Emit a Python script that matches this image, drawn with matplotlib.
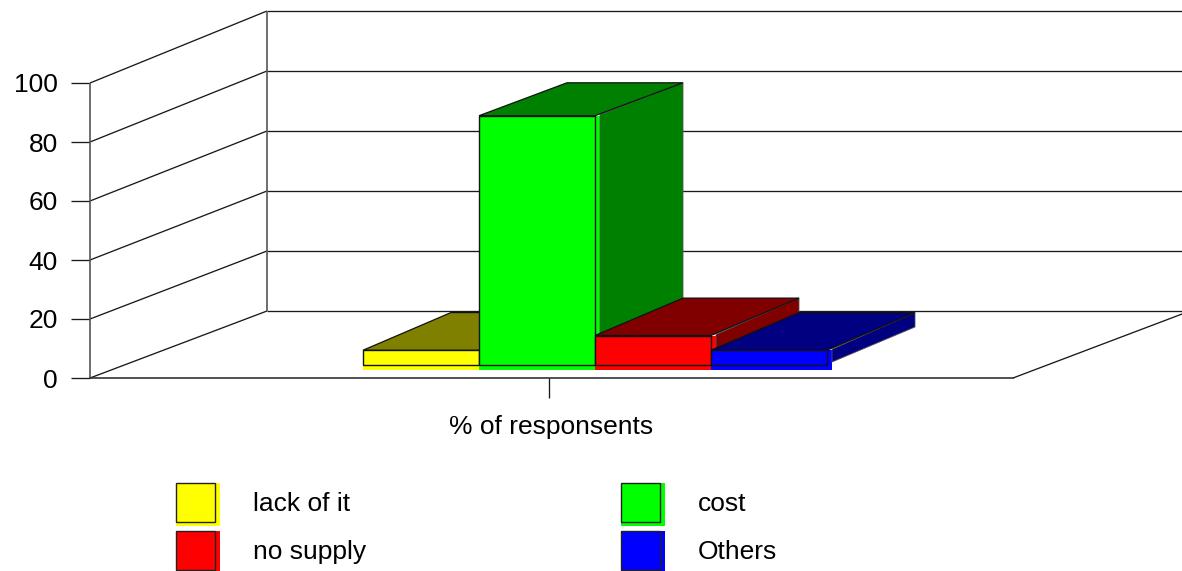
#Import necessary libraries
import matplotlib.pyplot as plt
from matplotlib.patches import Polygon, Rectangle

plt.rcParams["font.family"] = ["Liberation Sans", "DejaVu Sans"]

#Chart data
categories = ["lack of it", "cost", "no supply", "Others"]
values = [5, 84.5, 10, 5]
ticks = [0, 20, 40, 60, 80, 100]
group_label = "% of responsents"

#Colours for each series
front_colors = ["#ffff00", "#00ff00", "#ff0000", "#0000ff"]
dark_colors = ["#808000", "#008000", "#800000", "#000080"]

#Box geometry in pixels
x_left, x_floor_right = 90, 1013
y_zero, y_hundred = 378, 83
depth_x, depth_y = 177, 67
back_top = 11
unit = (y_zero - y_hundred) / 100

#Bar geometry in pixels
bar_x0, bar_w = 363, 116
bar_base = 365
bar_dx, bar_dy = 88, 38
back_unit = 2.89
lip = 5

fig = plt.figure(figsize=(11.82, 5.71), dpi=100)
ax = fig.add_axes([0, 0, 1, 1])
ax.set_xlim(0, 1182)
ax.set_ylim(571, 0)
ax.axis("off")

line = dict(color="#1a1a1a", lw=0.95, solid_capstyle="butt", zorder=1)
wall = dict(color="#555555", lw=1.2, solid_capstyle="butt", zorder=1)

#Walls and gridlines
x_back = x_left + depth_x
back_unit_wall = (y_zero - depth_y - back_top) / 100
for t in ticks:
    y_front = y_zero - t * unit
    y_back = y_zero - depth_y - t * back_unit_wall
    ax.plot([x_left, x_back], [y_front, y_back], **line)
    ax.plot([x_back, 1182], [y_back, y_back], **line)
    ax.plot([x_left - 19, x_left], [y_front, y_front], **line)
    ax.text(58, y_front, str(t), ha="right", va="center_baseline", fontsize=19)
ax.plot([x_left, x_left], [y_zero - 100 * unit, y_zero], **wall)
ax.plot([x_back, x_back], [back_top, y_zero - depth_y], **wall)

#Floor edges
ax.plot([x_left, x_floor_right], [y_zero, y_zero], color="#333333", lw=1.2, zorder=1)
ax.plot([x_floor_right, x_floor_right + depth_x], [y_zero, y_zero - depth_y], **line)
ax.plot([549, 549], [y_zero, y_zero + 20], **line)
ax.text(551, 427, group_label, ha="center", va="center", fontsize=19)

#Bars, left to right so later ones sit on top
for i, v in enumerate(values):
    x0 = bar_x0 + i * bar_w
    x1 = x0 + bar_w
    top = bar_base - v * unit
    back_base = bar_base - bar_dy
    back_top_y = back_base - v * back_unit
    z = 2 + i
    ax.add_patch(Rectangle((x0, top), bar_w + lip, bar_base - top + lip,
                           fc=front_colors[i], ec="none", zorder=z))
    ax.add_patch(Polygon([(x1 + lip, top - 1), (x1 + bar_dx, back_top_y),
                          (x1 + bar_dx, back_base), (x1 + lip, bar_base - 3)],
                         fc=dark_colors[i], ec="#555555", lw=0.6, zorder=z))
    ax.add_patch(Polygon([(x0, top), (x0 + bar_dx, back_top_y),
                          (x1 + bar_dx, back_top_y), (x1, top)],
                         fc=dark_colors[i], ec="#111111", lw=0.9, zorder=z))
    ax.add_patch(Rectangle((x0, top), bar_w, bar_base - top,
                           fc=front_colors[i], ec="#111111", lw=1.0, zorder=z))

#Legend swatches and names
legend_x = [176, 176, 621, 621]
legend_y = [483, 531, 483, 531]
order = [0, 2, 1, 3]
for k, i in enumerate(order):
    lx, ly = legend_x[k], legend_y[k]
    ax.add_patch(Rectangle((lx, ly), 44, 43, fc=front_colors[i], ec="none"))
    ax.add_patch(Rectangle((lx, ly), 39, 38.5, fc=front_colors[i], ec="#222222", lw=1.0))
    ax.text(lx + 77, ly + 21, categories[i], ha="left", va="center", fontsize=19)

plt.savefig("out.png", dpi=100)
